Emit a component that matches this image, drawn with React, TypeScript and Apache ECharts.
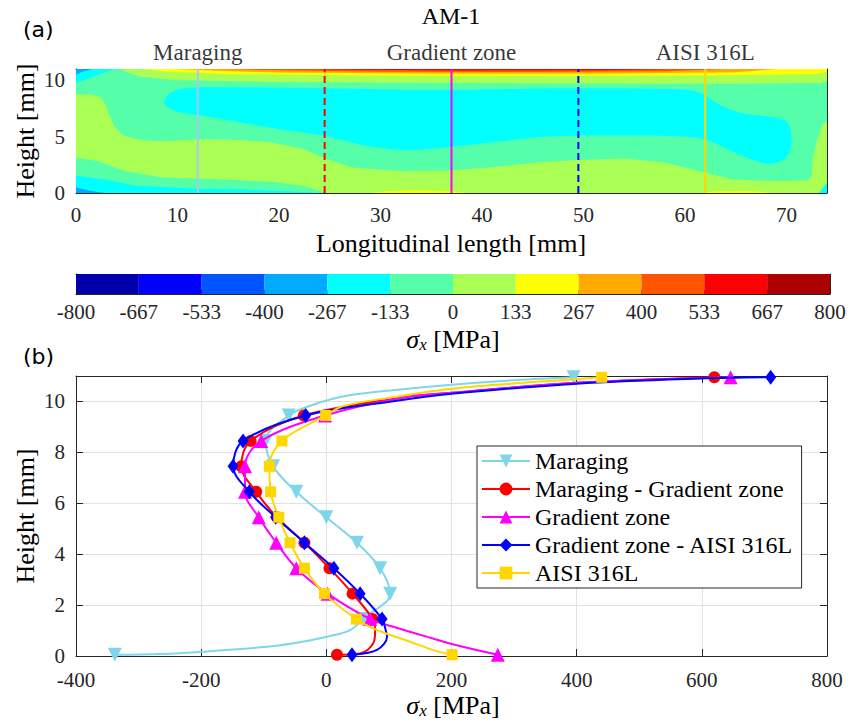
import React, { useEffect, useRef } from 'react';
import * as echarts from 'echarts';

const SERIF = 'Liberation Serif, serif';
const SANS = 'DejaVu Sans, sans-serif';
const AXIS_COLOR = '#262626';

// ---------------- (a) contour map ----------------
const zoneNames = ['Maraging', 'Gradient zone', 'AISI 316L'];
const zoneCentres = [12, 37, 62];
const sectionPositions = [12, 24.5, 37, 49.5, 62];
const sectionColors = ['#a9c6f5', '#ff0000', '#ff00ff', '#0000ff', '#ffd700'];
const sectionDashed = [false, true, false, true, false];

// 12 stress levels (-800 .. 800 MPa)
const levelColors = ['#0000aa', '#0000ff', '#0055ff', '#00aaff', '#00ffff', '#55ffaa',
  '#aaff55', '#ffff00', '#ffaa00', '#ff5500', '#ff0000', '#aa0000'];
const colorbarLabels = ['-800', '-667', '-533', '-400', '-267', '-133', '0', '133', '267', '400', '533', '667', '800'];

// contour regions, [length mm, height mm]
const regionBase = [[0, 0], [74, 0], [74, 11], [0, 11]];
const regionLightGreenMain = [[0, 8.75], [1.5, 8.75], [2.4, 8.5], [2.9, 7.9], [3.3, 6.9], [3.8, 5.9], [4.5, 5.2],
  [5.5, 4.85], [7, 4.65], [8.5, 4.6], [12.8, 4.8], [16, 4.7], [19.2, 4.5], [22.4, 3.9], [24.4, 3.1], [27.2, 2.26],
  [32, 1.96], [36.9, 2.0], [40.6, 2.26], [46, 2.76], [49, 2.9], [54, 3.05], [58, 2.7], [62, 1.8], [64.6, 1.23],
  [67, 1.1], [70, 1.08], [72.1, 1.1], [72.5, 1.6], [72.6, 3.0], [73, 4.6], [73.5, 6.0], [74, 6.4], [74, 0],
  [24.6, 0], [24.3, 0.1], [22.4, 0.65], [19.2, 1.0], [13.9, 1.23], [8.5, 1.38], [4.8, 1.96], [2.1, 2.84], [0, 3.14]];
const regionCyanBottomLeft = [[0, 0], [24.2, 0], [21.9, 0.12], [16.6, 0.3], [11.2, 0.41], [5.9, 0.65], [2.7, 1.23], [0, 1.52]];
const regionBlueBottomLeft = [[0, 0], [2.8, 0], [1.2, 0.22], [0, 0.5]];
const regionCyanCore = [[8.7, 7.9], [9.1, 8.75], [10.2, 9.2], [12.8, 9.38], [24.6, 9.3], [35.3, 9.15], [48.6, 9.3],
  [59.3, 9.2], [61.5, 8.9], [63.5, 7.8], [65.5, 7.1], [68.5, 6.75], [70.0, 6.4], [70.5, 5.0], [70.3, 3.6],
  [69.5, 2.85], [68.2, 2.6], [66.5, 3.0], [64.6, 3.72], [62, 4.75], [59.3, 5.04], [51.3, 5.1], [46, 4.98],
  [40.6, 4.45], [36.9, 4.08], [32.6, 3.8], [28.8, 4.16], [24.6, 5.04], [19.2, 5.78], [12.8, 6.8], [9.9, 7.25]];
const regionLightGreenTop = [[4.5, 11], [74, 11], [74, 9.9], [73.3, 9.75], [65, 9.7], [50, 9.72], [35, 9.75],
  [20, 9.85], [10, 10.0], [6.5, 10.3], [5, 10.7]];
const regionCyanTopLeft = [[0, 11], [3.8, 11], [2.8, 10.7], [1.2, 10.15], [0, 9.75]];
const regionBlueTopLeft = [[0, 11], [1.6, 11], [0.6, 10.75], [0, 10.5]];
const regionYellowTop = [[6.5, 11], [74, 11], [74, 10.75], [73, 10.55], [62, 10.42], [45, 10.38], [28, 10.42],
  [15, 10.55], [9, 10.75]];
const regionOrangeTop = [[10, 11], [69, 11], [65, 10.72], [52, 10.6], [35, 10.6], [20, 10.68], [14, 10.85]];
const regionDarkOrangeTop = [[15, 11], [64, 11], [58, 10.8], [45, 10.74], [30, 10.76], [20, 10.88]];
const regionRedTop = [[24, 11], [58, 11], [52, 10.9], [38, 10.87], [28, 10.93]];
const regionYellowBottomA = [[29, 0], [38.5, 0], [37, 0.18], [33, 0.25], [30.5, 0.15]];
const regionYellowBottomB = [[61.5, 0], [68.5, 0], [67, 0.15], [64, 0.18], [62.5, 0.12]];
const regionCyanBottomRight = [[73.2, 0], [74, 0], [74, 0.9], [73.6, 0.45]];

const contourLayers = [
  { pts: regionBase, level: 5, smooth: 0 },
  { pts: regionLightGreenMain, level: 6, smooth: 0 },
  { pts: regionCyanBottomLeft, level: 4, smooth: 0 },
  { pts: regionBlueBottomLeft, level: 3, smooth: 0 },
  { pts: regionCyanCore, level: 4, smooth: 0.3 },
  { pts: regionLightGreenTop, level: 6, smooth: 0 },
  { pts: regionCyanTopLeft, level: 4, smooth: 0 },
  { pts: regionBlueTopLeft, level: 3, smooth: 0 },
  { pts: regionYellowTop, level: 7, smooth: 0 },
  { pts: regionOrangeTop, level: 8, smooth: 0 },
  { pts: regionDarkOrangeTop, level: 9, smooth: 0 },
  { pts: regionRedTop, level: 10, smooth: 0 },
  { pts: regionYellowBottomA, level: 7, smooth: 0 },
  { pts: regionYellowBottomB, level: 7, smooth: 0 },
  { pts: regionCyanBottomRight, level: 4, smooth: 0 },
];

// ---------------- (b) stress profiles ----------------
const markerHeights = [0.05, 1.45, 2.45, 3.45, 4.45, 5.45, 6.45, 7.45, 8.45, 9.45, 10.95];

const maragingX = [-338, 58, 102, 86, 49, 0, -48, -85, -97, -60, 395];
const maragingBottomTrace = [[-264, 0.08], [-196, 0.17], [-105, 0.34], [-52, 0.5], [1, 0.76], [38, 1.02]];
const maragingTopTrace = [[-20, 9.88], [35, 10.23], [118, 10.47], [200, 10.66], [304, 10.84]];

const marGradX = [17, 74, 42, 5, -35, -79, -112, -136, -121, -36, 620];
const marGradBottomTrace = [[54, 0.1], [75, 0.5], [78, 1.0]];
const marGradTopTrace = [[118, 10.14], [200, 10.34], [400, 10.73]];

const gradientX = [274, 70, 2, -48, -80, -108, -130, -130, -104, -2, 646];
const gradientBottomTrace = [[213, 0.39], [160, 0.76], [107, 1.15]];
const gradientTopTrace = [[118, 10.14], [200, 10.34], [400, 10.73]];

const gradAisiX = [41, 89, 54, 12, -35, -81, -123, -149, -133, -33, 710];
const gradAisiBottomTrace = [[81, 0.24], [97, 0.76], [95, 1.0]];
const gradAisiTopTrace = [[118, 10.05], [200, 10.3], [400, 10.7], [596, 10.9]];

const aisiX = [201, 48, -3, -35, -58, -76, -89, -91, -71, -1, 440];
const aisiBottomTrace = [[175, 0.2], [134, 0.56], [81, 1.02]];
const aisiTopTrace = [[27, 9.82], [107, 10.17], [200, 10.5], [330, 10.76]];

const profileNames = ['Maraging', 'Maraging - Gradient zone', 'Gradient zone', 'Gradient zone - AISI 316L', 'AISI 316L'];
const profileColors = ['#7fd6ea', '#ff0000', '#ff00ff', '#0000ff', '#ffd700'];
const profileSymbols = ['triangle', 'circle', 'triangle', 'diamond', 'rect'];
const profileRotations = [180, 0, 0, 0, 0];
const profileSymbolSizes: any[] = [14, 12, 14, [11, 15], 11];

function buildProfile(xs: number[], bottomTrace: number[][], topTrace: number[][]) {
  const out: any[] = [];
  out.push({ value: [xs[0], markerHeights[0]] });
  bottomTrace.forEach((p) => out.push({ value: p, symbol: 'none' }));
  for (let i = 1; i < markerHeights.length - 1; i++) out.push({ value: [xs[i], markerHeights[i]] });
  topTrace.forEach((p) => out.push({ value: p, symbol: 'none' }));
  const last = markerHeights.length - 1;
  out.push({ value: [xs[last], markerHeights[last]] });
  return out;
}

const profileData = [
  buildProfile(maragingX, maragingBottomTrace, maragingTopTrace),
  buildProfile(marGradX, marGradBottomTrace, marGradTopTrace),
  buildProfile(gradientX, gradientBottomTrace, gradientTopTrace),
  buildProfile(gradAisiX, gradAisiBottomTrace, gradAisiTopTrace),
  buildProfile(aisiX, aisiBottomTrace, aisiTopTrace),
];

// ---------------- chart option ----------------
const tickStyle = { show: true, inside: true, length: 7, lineStyle: { color: AXIS_COLOR, width: 1 } };
const lineStyleAxis = { show: true, onZero: false, lineStyle: { color: AXIS_COLOR, width: 1 } };
const labelStyle = { show: true, color: AXIS_COLOR, fontFamily: SERIF, fontSize: 21, margin: 11 };
const gridLine = { show: true, lineStyle: { color: '#e2e2e2', width: 1 } };

function mainAxis(gridIndex: number, position: string, min: number, max: number, interval: number, extra: any = {}) {
  return {
    type: 'value', gridIndex, position, min, max, interval,
    axisLine: lineStyleAxis, axisTick: tickStyle,
    axisLabel: { ...labelStyle, showMaxLabel: false },
    splitLine: { show: false },
    ...extra,
  };
}
function mirrorAxis(gridIndex: number, position: string, min: number, max: number, interval: number, ticks = true) {
  return {
    type: 'value', gridIndex, position, min, max, interval,
    axisLine: lineStyleAxis, axisTick: ticks ? tickStyle : { show: false },
    axisLabel: { show: false }, splitLine: { show: false },
  };
}

const option: any = {
  animation: false,
  backgroundColor: '#ffffff',
  grid: [
    { left: 76, top: 69, width: 751, height: 124 },
    { left: 76, top: 274, width: 754, height: 20 },
    { left: 76, top: 376, width: 751, height: 280 },
  ],
  xAxis: [
    mainAxis(0, 'bottom', 0, 74, 10),
    mirrorAxis(0, 'top', 0, 74, 10),
    {
      type: 'value', gridIndex: 1, position: 'bottom', min: 0, max: 12, interval: 1,
      axisLine: lineStyleAxis, axisTick: { show: true, inside: true, length: 4, lineStyle: { color: AXIS_COLOR } },
      axisLabel: { ...labelStyle, margin: 7, formatter: (v: number) => colorbarLabels[Math.round(v)] ?? '' },
      splitLine: { show: false },
    },
    mirrorAxis(1, 'top', 0, 12, 1, false),
    mainAxis(2, 'bottom', -400, 800, 200, { splitLine: gridLine, axisLabel: { ...labelStyle, margin: 13 } }),
    mirrorAxis(2, 'top', -400, 800, 200),
  ],
  yAxis: [
    mainAxis(0, 'left', 0, 11, 5),
    mirrorAxis(0, 'right', 0, 11, 5),
    mirrorAxis(1, 'left', 0, 1, 1, false),
    mirrorAxis(1, 'right', 0, 1, 1, false),
    mainAxis(2, 'left', 0, 11, 2, { splitLine: gridLine }),
    mirrorAxis(2, 'right', 0, 11, 2),
  ],
  legend: {
    orient: 'vertical', left: 477, top: 446,
    itemWidth: 48, itemHeight: 16, itemGap: 4, itemTextGap: 5,
    padding: [3, 8, 3, 4],
    borderColor: AXIS_COLOR, borderWidth: 1, backgroundColor: '#ffffff',
    textStyle: { fontFamily: SERIF, fontSize: 24, color: '#000', lineHeight: 24 },
    data: profileNames,
  },
  series: [
    {
      type: 'custom', xAxisIndex: 0, yAxisIndex: 0, silent: true,
      data: contourLayers.map((_, i) => [i, 0]),
      renderItem: (params: any, api: any) => {
        const layer = contourLayers[params.dataIndex];
        return {
          type: 'polygon',
          shape: { points: layer.pts.map((p) => api.coord(p)), smooth: layer.smooth },
          style: { fill: levelColors[layer.level], stroke: null },
        };
      },
    },
    ...sectionPositions.map((x, i) => ({
      type: 'line', xAxisIndex: 0, yAxisIndex: 0, silent: true, symbol: 'none',
      data: [[x, 0], [x, 11]],
      lineStyle: { color: sectionColors[i], width: 2, type: sectionDashed[i] ? [7, 4] : 'solid' },
      z: 3,
    })),
    {
      type: 'scatter', xAxisIndex: 0, yAxisIndex: 0, silent: true, clip: false,
      symbolSize: 1, itemStyle: { color: 'rgba(0,0,0,0)' },
      data: zoneCentres.map((x, i) => ({ value: [x, 11], name: zoneNames[i] })),
      label: { show: true, position: 'top', distance: 5, formatter: '{b}', fontFamily: SERIF, fontSize: 23, color: '#000' },
    },
    {
      type: 'custom', xAxisIndex: 2, yAxisIndex: 2, silent: true,
      data: levelColors.map((_, i) => [i, 0]),
      renderItem: (params: any, api: any) => {
        const i = params.dataIndex;
        const p0 = api.coord([i, 1]);
        const p1 = api.coord([i + 1, 0]);
        return {
          type: 'rect',
          shape: { x: p0[0], y: p0[1], width: p1[0] - p0[0], height: p1[1] - p0[1] },
          style: { fill: levelColors[i], stroke: null },
        };
      },
    },
    ...profileNames.map((name, i) => ({
      type: 'line', name, xAxisIndex: 4, yAxisIndex: 4,
      data: profileData[i], smooth: 0.35,
      symbol: profileSymbols[i], symbolRotate: profileRotations[i], symbolSize: profileSymbolSizes[i],
      showAllSymbol: true,
      lineStyle: { color: profileColors[i], width: 2 },
      itemStyle: { color: profileColors[i] },
      z: 3 + i,
    })),
  ],
  graphic: [
    { type: 'text', x: 23, y: 29, style: { text: '(a)', font: `22px ${SANS}`, fill: '#000', verticalAlign: 'middle' } },
    { type: 'text', x: 23, y: 356, style: { text: '(b)', font: `22px ${SANS}`, fill: '#000', verticalAlign: 'middle' } },
    { type: 'text', x: 451, y: 16, style: { text: 'AM-1', font: `24px ${SERIF}`, fill: '#000', align: 'center', verticalAlign: 'middle' } },
    { type: 'text', x: 451, y: 243, style: { text: 'Longitudinal length [mm]', font: `26px ${SERIF}`, fill: '#000', align: 'center', verticalAlign: 'middle' } },
    { type: 'text', x: 25, y: 131, rotation: Math.PI / 2, style: { text: 'Height [mm]', font: `26px ${SERIF}`, fill: '#000', align: 'center', verticalAlign: 'middle' } },
    { type: 'text', x: 25, y: 516, rotation: Math.PI / 2, style: { text: 'Height [mm]', font: `26px ${SERIF}`, fill: '#000', align: 'center', verticalAlign: 'middle' } },
    ...[339, 705].map((y) => ({
      type: 'text', x: 453, y,
      style: {
        text: '{s|σ}{sub|x} [MPa]', font: `26px ${SERIF}`, fill: '#000', align: 'center', verticalAlign: 'middle',
        rich: {
          s: { fontFamily: SERIF, fontSize: 26, fontStyle: 'italic', lineHeight: 28 },
          sub: { fontFamily: SERIF, fontSize: 17, fontStyle: 'italic', lineHeight: 12, verticalAlign: 'bottom' },
        },
      },
    })),
  ],
};

export default function App() {
  const ref = useRef<HTMLDivElement>(null);
  useEffect(() => {
    if (!ref.current) return;
    const chart = echarts.init(ref.current, null, { renderer: 'svg' });
    chart.setOption(option);
    return () => chart.dispose();
  }, []);
  return <div ref={ref} style={{ position: 'absolute', left: 0, top: 0, width: 854, height: 720, background: '#fff' }} />;
}
